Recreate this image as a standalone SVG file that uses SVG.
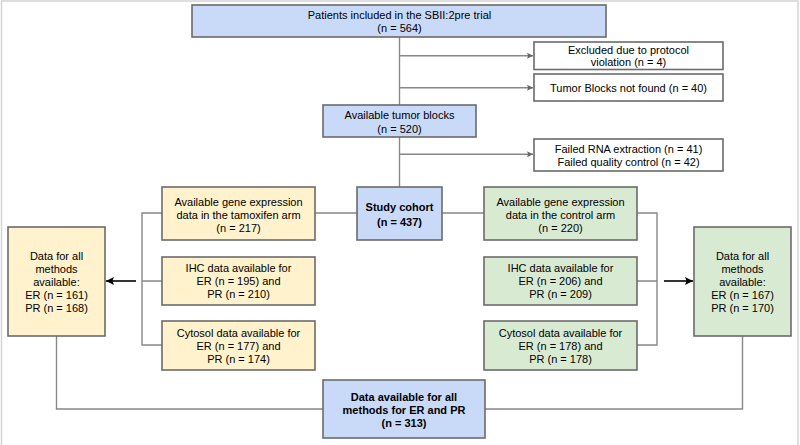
<svg xmlns="http://www.w3.org/2000/svg" width="800" height="445" viewBox="0 0 800 445">
<defs>
<style>
.bx{stroke:#6b6b6b;stroke-width:1.6}
.blue{fill:#c9daf8}
.yel{fill:#fff2cc}
.grn{fill:#d9ead3}
.wht{fill:#ffffff}
.t{font-family:"Liberation Sans",Arial,sans-serif;font-size:11px;fill:#000;text-anchor:middle}
.b{font-weight:bold}
.ln{fill:none;stroke:#888888;stroke-width:1.4}
.ar{fill:none;stroke:#000;stroke-width:1.6}
</style>
<marker id="ga" viewBox="0 0 10 10" refX="10" refY="5" markerWidth="7" markerHeight="6" markerUnits="userSpaceOnUse" orient="auto"><path d="M0,0 L10,5 L0,10 L2,5 z" fill="#666"/></marker>
<marker id="ba" viewBox="0 0 10 10" refX="10" refY="5" markerWidth="10" markerHeight="8" markerUnits="userSpaceOnUse" orient="auto"><path d="M0,0 L10,5 L0,10 L2,5 z" fill="#000"/></marker>
</defs>
<rect width="800" height="445" fill="#fff"/>
<rect x="1.5" y="1" width="796.5" height="470" fill="none" stroke="#d4d4d4" stroke-width="1.5"/>

<g id="connectors">
<path class="ln" d="M399.5,37 V105 M399.5,137 V187"/>
<path class="ln" d="M399.5,55.7 H533" marker-end="url(#ga)"/>
<path class="ln" d="M399.5,87.7 H533" marker-end="url(#ga)"/>
<path class="ln" d="M399.5,154.3 H533" marker-end="url(#ga)"/>
<path class="ln" d="M315,213 H357 M442,213 H484"/>
<path class="ln" d="M162,213 H142 V345 H162 M142,281 H162"/>
<path class="ln" d="M637,213 H657 V345 H637 M657,281 H637"/>
<path class="ar" d="M136,281 H106" marker-end="url(#ba)"/>
<path class="ar" d="M664,281 H693" marker-end="url(#ba)"/>
<path class="ln" d="M56.5,336 V409 H323 M742.5,336 V409 H485"/>
</g>

<g id="patients">
<rect class="bx blue" x="192" y="5" width="414" height="32"/>
<text class="t" x="399.5" y="18.8">Patients included in the SBII:2pre trial</text>
<text class="t" x="399.5" y="32.3">(n = 564)</text>
</g>
<g id="excluded">
<rect class="bx wht" x="534" y="42" width="189" height="27.5"/>
<text class="t" x="628.5" y="53.6">Excluded due to protocol</text>
<text class="t" x="628.5" y="66.4">violation (n = 4)</text>
</g>
<g id="notfound">
<rect class="bx wht" x="534" y="74" width="189" height="27"/>
<text class="t" x="628.5" y="91.6">Tumor Blocks not found (n = 40)</text>
</g>
<g id="available">
<rect class="bx blue" x="323" y="105" width="153" height="32"/>
<text class="t" x="399.5" y="119.3">Available tumor blocks</text>
<text class="t" x="399.5" y="132.6">(n = 520)</text>
</g>
<g id="failed">
<rect class="bx wht" x="534" y="139" width="189" height="32"/>
<text class="t" x="628.5" y="153">Failed RNA extraction (n = 41)</text>
<text class="t" x="628.5" y="166.3">Failed quality control (n = 42)</text>
</g>
<g id="study">
<rect class="bx blue" x="357" y="187" width="85" height="53"/>
<text class="t b" x="399.5" y="210.6">Study cohort</text>
<text class="t b" x="399.5" y="225.6">(n = 437)</text>
</g>
<g id="tam-gene">
<rect class="bx yel" x="162" y="187" width="153" height="53"/>
<text class="t" x="238.5" y="205.5">Available gene expression</text>
<text class="t" x="238.5" y="218.5">data in the tamoxifen arm</text>
<text class="t" x="238.5" y="231.5">(n = 217)</text>
</g>
<g id="ctl-gene">
<rect class="bx grn" x="484" y="187" width="153" height="53"/>
<text class="t" x="560.5" y="205.5">Available gene expression</text>
<text class="t" x="560.5" y="218.5">data in the control arm</text>
<text class="t" x="560.5" y="231.5">(n = 220)</text>
</g>
<g id="tam-ihc">
<rect class="bx yel" x="162" y="257" width="153" height="48"/>
<text class="t" x="238.5" y="271.6">IHC data available for</text>
<text class="t" x="238.5" y="285">ER (n = 195) and</text>
<text class="t" x="238.5" y="298.3">PR (n = 210)</text>
</g>
<g id="ctl-ihc">
<rect class="bx grn" x="484" y="257" width="153" height="48"/>
<text class="t" x="560.5" y="271.6">IHC data available for</text>
<text class="t" x="560.5" y="285">ER (n = 206) and</text>
<text class="t" x="560.5" y="298.3">PR (n = 209)</text>
</g>
<g id="tam-cyto">
<rect class="bx yel" x="162" y="321" width="153" height="49"/>
<text class="t" x="238.5" y="337.3">Cytosol data available for</text>
<text class="t" x="238.5" y="350.2">ER (n = 177) and</text>
<text class="t" x="238.5" y="363.2">PR (n = 174)</text>
</g>
<g id="ctl-cyto">
<rect class="bx grn" x="484" y="321" width="153" height="49"/>
<text class="t" x="560.5" y="337.3">Cytosol data available for</text>
<text class="t" x="560.5" y="350.2">ER (n = 178) and</text>
<text class="t" x="560.5" y="363.2">PR (n = 178)</text>
</g>
<g id="tam-all">
<rect class="bx yel" x="8" y="227" width="97" height="109"/>
<text class="t" x="56.5" y="259.7">Data for all</text>
<text class="t" x="56.5" y="272.7">methods</text>
<text class="t" x="56.5" y="285.7">available:</text>
<text class="t" x="56.5" y="298.8">ER (n = 161)</text>
<text class="t" x="56.5" y="311.7">PR (n = 168)</text>
</g>
<g id="ctl-all">
<rect class="bx grn" x="694" y="227" width="97" height="109"/>
<text class="t" x="742.5" y="259.7">Data for all</text>
<text class="t" x="742.5" y="272.7">methods</text>
<text class="t" x="742.5" y="285.7">available:</text>
<text class="t" x="742.5" y="298.8">ER (n = 167)</text>
<text class="t" x="742.5" y="311.7">PR (n = 170)</text>
</g>
<g id="final">
<rect class="bx blue" x="323" y="380" width="162" height="58"/>
<text class="t b" x="404" y="401.3">Data available for all</text>
<text class="t b" x="404" y="414.2">methods for ER and PR</text>
<text class="t b" x="404" y="427.3">(n = 313)</text>
</g>
</svg>
